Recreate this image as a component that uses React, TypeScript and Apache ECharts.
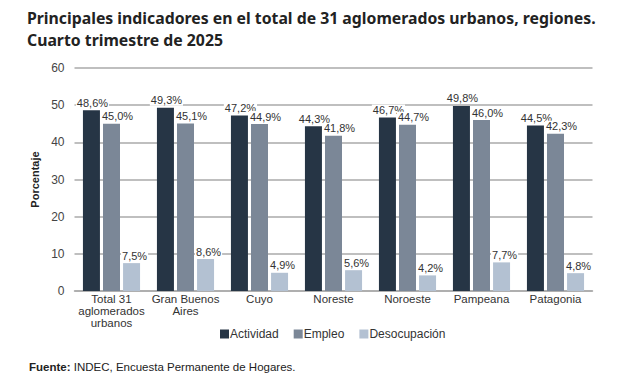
import React, { useEffect, useRef } from "react";
import * as echarts from "echarts";

const categories = [
  "Total 31\naglomerados\nurbanos",
  "Gran Buenos\nAires",
  "Cuyo",
  "Noreste",
  "Noroeste",
  "Pampeana",
  "Patagonia",
];
const actividad = [48.6, 49.3, 47.2, 44.3, 46.7, 49.8, 44.5];
const empleo = [45.0, 45.1, 44.9, 41.8, 44.7, 46.0, 42.3];
const desocupacion = [7.5, 8.6, 4.9, 5.6, 4.2, 7.7, 4.8];
const seriesNames = ["Actividad", "Empleo", "Desocupación"];
const colors = ["#263545", "#7b8797", "#b3c1d2"];
const yTicks = { min: 0, max: 60, interval: 10 };

const fmt = (v: number) => v.toFixed(1).replace(".", ",") + "%";

export default function App() {
  const ref = useRef<HTMLDivElement>(null);
  useEffect(() => {
    if (!ref.current) return;
    const chart = echarts.init(ref.current, null, { renderer: "svg" });
    const font = "'Liberation Sans', Arial, sans-serif";
    const labelOffsets = [1, 6, 3];
    const makeLabel = (i: number) => ({
      show: true,
      position: "top" as const,
      distance: 2,
      offset: [labelOffsets[i], 0],
      formatter: (p: any) => fmt(p.value),
      color: "#333",
      fontSize: 11,
      fontFamily: font,
      backgroundColor: "#fff",
      padding: [0, 1],
    });
    const data = [actividad, empleo, desocupacion];
    chart.setOption({
      animation: false,
      color: colors,
      title: {
        text: "Principales indicadores en el total de 31 aglomerados urbanos, regiones.\nCuarto trimestre de 2025",
        left: 22,
        top: 2,
        textStyle: {
          fontFamily: "'Noto Sans', sans-serif",
          fontWeight: "bold",
          fontSize: 15.8,
          lineHeight: 22,
          color: "#222",
        },
      },
      grid: { left: 74.5, right: 40.5, top: 68, bottom: 94 },
      legend: {
        data: seriesNames,
        top: 328,
        left: 220,
        padding: 0,
        icon: "rect",
        itemWidth: 9,
        itemHeight: 9,
        itemGap: 15,
        textStyle: { fontSize: 12, fontFamily: font, color: "#333", padding: [0, 0, 0, -4] },
      },
      xAxis: {
        type: "category",
        data: categories,
        axisLine: { show: true, lineStyle: { color: "#aaa", width: 1.5 } },
        axisTick: { show: false },
        axisLabel: {
          fontSize: 11.5,
          fontFamily: font,
          color: "#333",
          lineHeight: 12,
          margin: 2,
          interval: 0,
        },
      },
      yAxis: {
        type: "value",
        min: yTicks.min,
        max: yTicks.max,
        interval: yTicks.interval,
        name: "Porcentaje",
        nameLocation: "middle",
        nameGap: 30,
        nameTextStyle: { fontSize: 11, fontWeight: "bold", fontFamily: font, color: "#222" },
        axisLine: { show: false },
        axisTick: { show: false },
        axisLabel: { fontSize: 12, fontFamily: font, color: "#444", margin: 10 },
        splitLine: { lineStyle: { color: "#aaa", width: 1.5 } },
      },
      series: seriesNames.map((name, i) => ({
        name,
        type: "bar",
        data: data[i],
        barWidth: 17,
        barGap: "18%",
        label: makeLabel(i),
      })),
      graphic: [
        {
          type: "text",
          left: 29,
          top: 361,
          style: {
            text: "{b|Fuente:} INDEC, Encuesta Permanente de Hogares.",
            fontSize: 11.5,
            fontFamily: font,
            fill: "#222",
            rich: { b: { fontWeight: "bold", fontSize: 11.5, fontFamily: font, fill: "#222" } },
          },
        },
      ],
    });
    return () => chart.dispose();
  }, []);
  return (
    <div
      ref={ref}
      style={{ position: "fixed", left: 0, top: 0, width: 633, height: 385, background: "#fff" }}
    />
  );
}
